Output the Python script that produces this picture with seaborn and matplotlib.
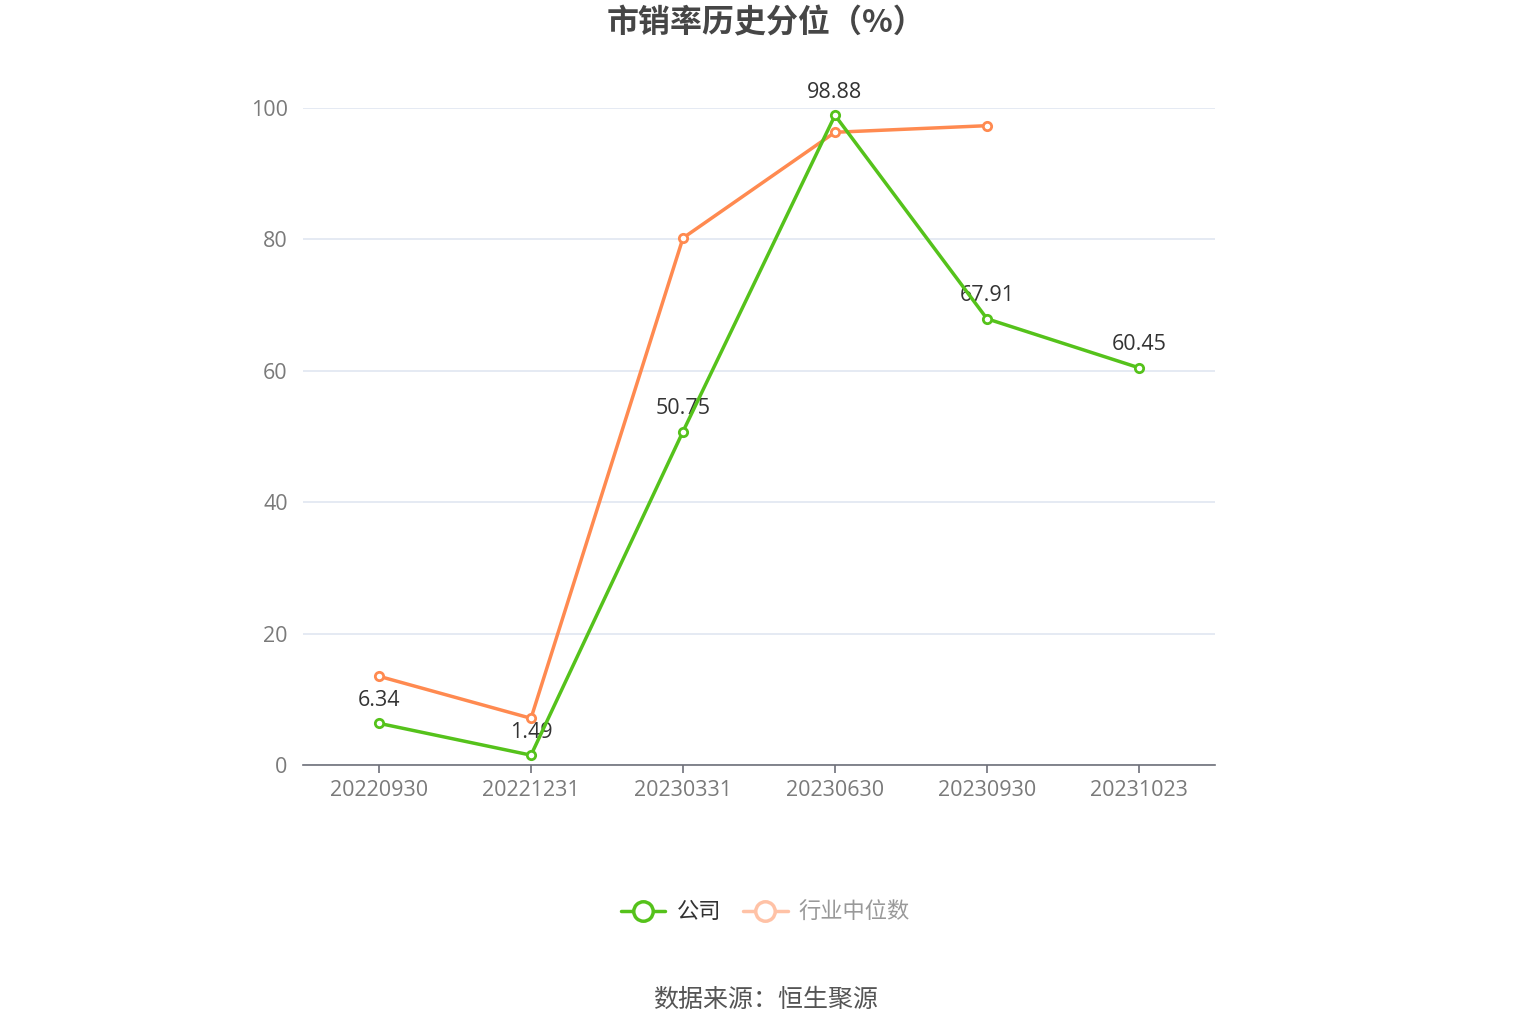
import pandas as pd
import numpy as np
import matplotlib.pyplot as plt
from matplotlib.lines import Line2D
import seaborn as sns

# data
dates = ['20220930', '20221231', '20230331', '20230630', '20230930', '20231023']
company = [6.34, 1.49, 50.75, 98.88, 67.91, 60.45]
industry = [13.5, 7.1, 80.2, 96.3, 97.3, np.nan]

green = '#55c21b'
orange = '#ff8a50'

sns.set_theme(style='white')
plt.rcParams['font.family'] = ['Open Sans', 'Noto Sans CJK SC', 'DejaVu Sans']

df = pd.DataFrame({'date': dates, 'x': range(len(dates)), '公司': company, '行业中位数': industry})

fig = plt.figure(figsize=(15.31, 10.34), dpi=100)
ax = fig.add_axes([0.1979, 0.2602, 0.5957, 0.6354])

sns.lineplot(data=df, x='x', y='行业中位数', ax=ax, color=orange, lw=2.5,
             marker='o', markersize=6, markerfacecolor='white', markeredgecolor=orange,
             markeredgewidth=2, zorder=3)
sns.lineplot(data=df, x='x', y='公司', ax=ax, color=green, lw=2.5,
             marker='o', markersize=6, markerfacecolor='white', markeredgecolor=green,
             markeredgewidth=2, zorder=4)

# value labels for the company line
for xi, v in zip(df['x'], company):
    ax.annotate(f'{v:.2f}', (xi, v), xytext=(0, 9), textcoords='offset points',
                ha='center', va='bottom', fontsize=15.5, color='#333333')

ax.set_xlim(-0.5, len(dates) - 0.5)
ax.set_ylim(0, 100)
ax.set_xticks(df['x'])
ax.set_xticklabels(dates)
ax.set_yticks([0, 20, 40, 60, 80, 100])
ax.set_xlabel('')
ax.set_ylabel('')
ax.tick_params(axis='x', colors='#6e7079', labelcolor='#7a7a7a', labelsize=15.5,
               length=6, width=1.2, direction='out', bottom=True, pad=5)
ax.tick_params(axis='y', labelcolor='#7a7a7a', labelsize=15.5, length=0, pad=11)
ax.grid(axis='y', color='#e0e6f1', lw=1.2)
for s in ['top', 'right', 'left']:
    ax.spines[s].set_visible(False)
ax.spines['bottom'].set_color('#6e7079')
ax.spines['bottom'].set_linewidth(1.2)

fig.text(0.5, 0.977, '市销率历史分位（%）', ha='center', va='center',
         fontsize=23, fontweight='bold', color='#464646',
         family=['Noto Sans CJK SC', 'DejaVu Sans'])

handles = [
    Line2D([], [], color=green, lw=2.5, marker='o', markersize=14,
           markerfacecolor='white', markeredgecolor=green, markeredgewidth=2.5),
    Line2D([], [], color='#ffc2a6', lw=2.5, marker='o', markersize=14,
           markerfacecolor='white', markeredgecolor='#ffc2a6', markeredgewidth=2.5),
]
leg = fig.legend(handles, ['公司', '行业中位数'], loc='center', bbox_to_anchor=(0.5, 0.118),
                 ncol=2, frameon=False, handlelength=2.0,
                 columnspacing=1.0, handletextpad=0.5,
                 prop={'family': ['Noto Sans CJK SC', 'DejaVu Sans'], 'size': 16})
leg.get_texts()[0].set_color('#333333')
leg.get_texts()[1].set_color('#999999')

fig.text(0.5, 0.033, '数据来源：恒生聚源', ha='center', va='center',
         fontsize=18, color='#555555', family=['Noto Sans CJK SC', 'DejaVu Sans'])

fig.savefig('out.png', dpi=100)
